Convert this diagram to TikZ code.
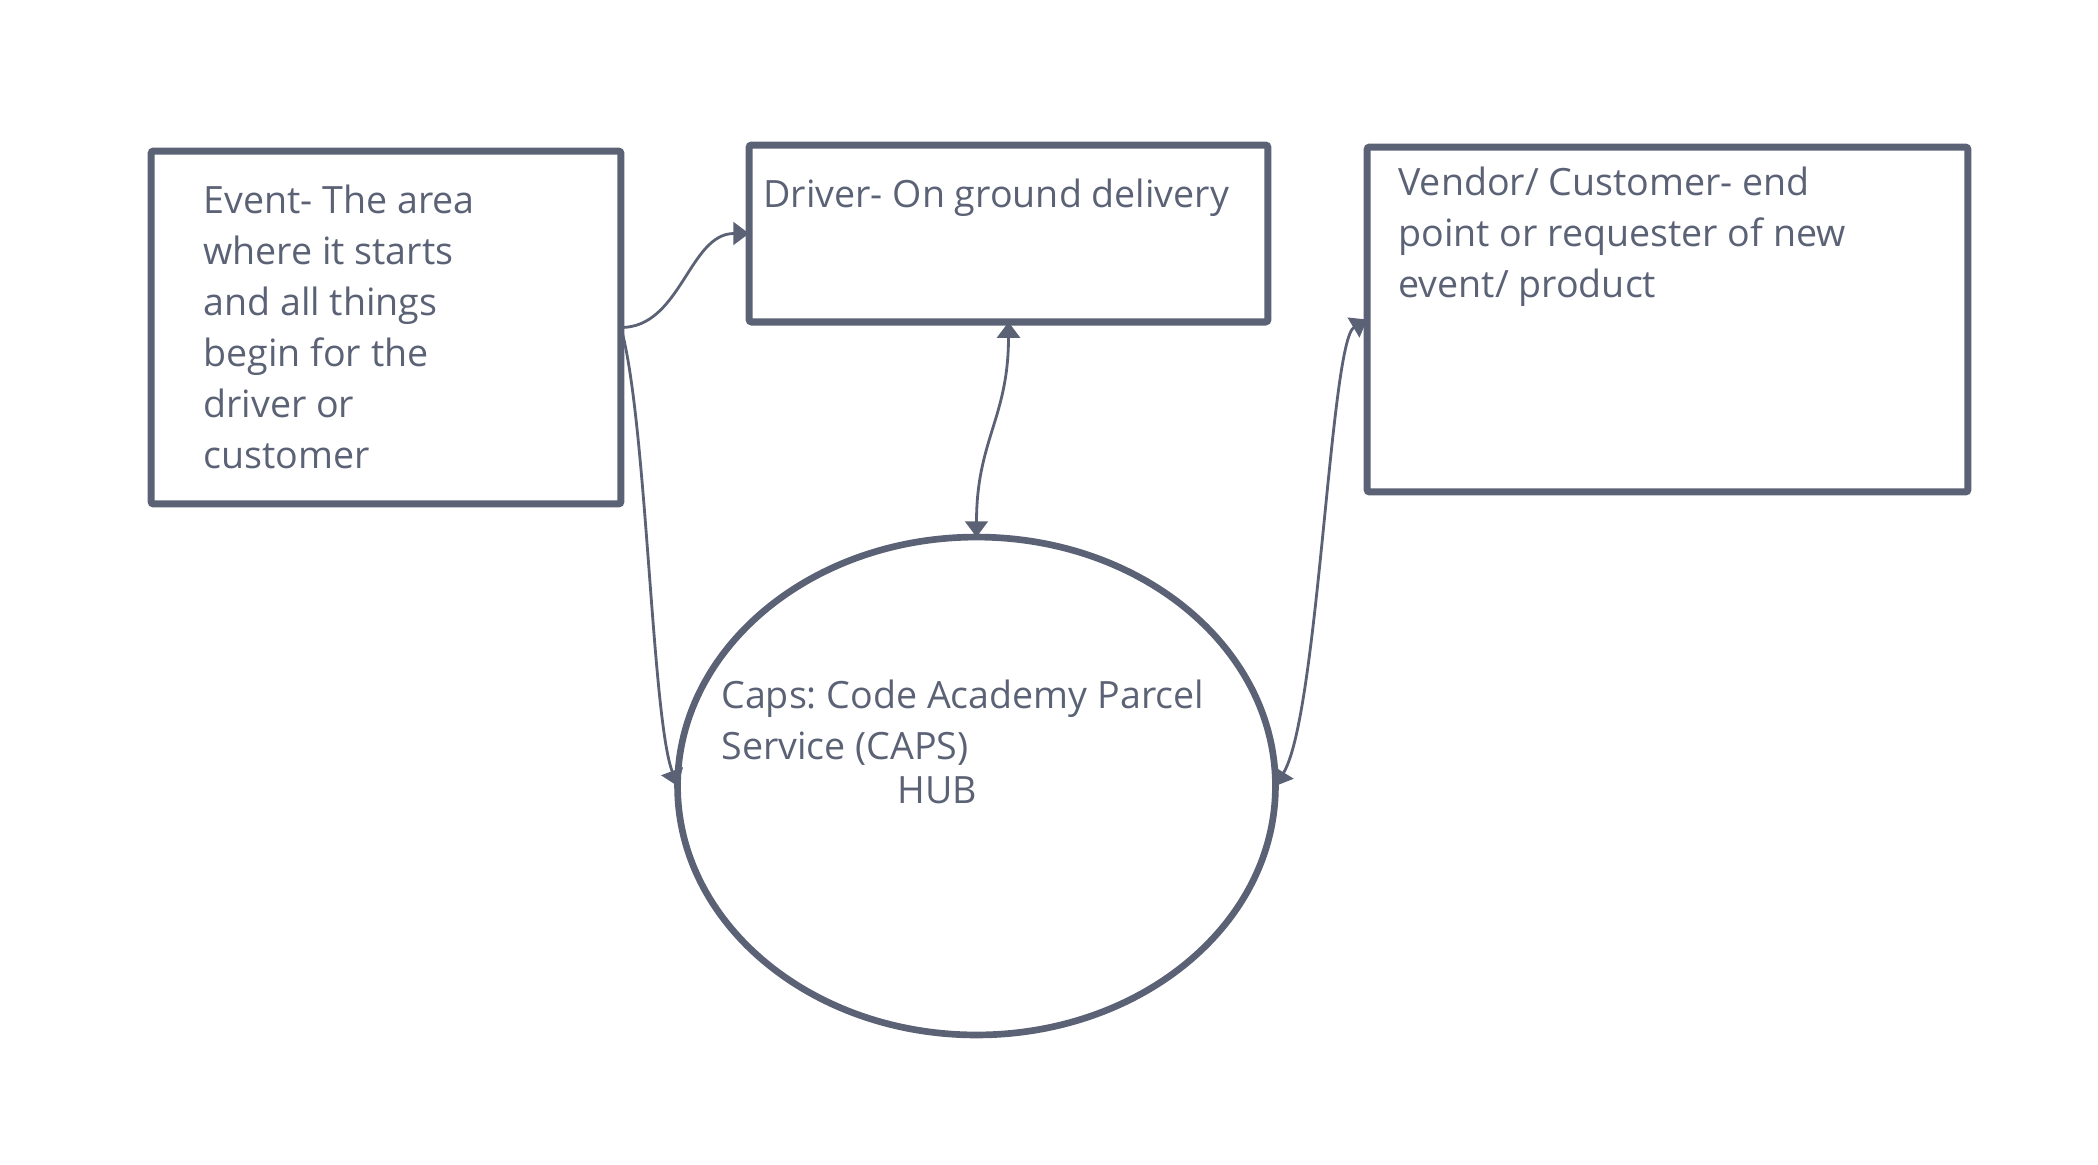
\documentclass[tikz,border=0pt]{standalone}
\usepackage{fontspec}
\setmainfont{Open Sans}
\usetikzlibrary{arrows.meta,shapes.geometric}
\definecolor{ink}{HTML}{5B6275}
\frenchspacing

\begin{document}
\begin{tikzpicture}[x=0.02cm,y=-0.02cm,
    box/.style={draw=ink,line width=4pt,rounded corners=1.5pt,inner sep=0pt,outer sep=0pt},
    txt/.style={text=ink,font=\fontsize{21.4}{29}\selectfont,inner sep=0pt,align=left,anchor=base west},
    tip/.style={-{Triangle[length=9pt,width=13pt]}},
    both/.style={{Triangle[length=9pt,width=13pt]}-{Triangle[length=9pt,width=13pt]}},
    link/.style={draw=ink,line width=1.6pt}]
    \useasboundingbox (0,0) rectangle (2098,1164);
    % boxes
    \node[box,minimum width=9.4cm,minimum height=7.06cm] (event) at (386,327.5) {};
    \node[box,minimum width=10.38cm,minimum height=3.54cm] (driver) at (1008.5,233.5) {};
    \node[box,minimum width=12.02cm,minimum height=6.9cm] (vendor) at (1667.5,319.5) {};
    \node[box,ellipse,line width=3.8pt,minimum width=11.96cm,minimum height=9.96cm] (hub) at (976.5,786) {};
    % texts (base = last line)
    \node[txt] (eventtxt) at (203,468) {Event- The area\\where it starts\\and all things\\begin for the\\driver or\\customer};
    \node[txt] (drivertxt) at (763,207) {Driver- On ground delivery};
    \node[txt] (vendortxt) at (1398,297) {Vendor/ Customer- end\\point or requester of new\\event/ product};
    \node[txt] (hubtxt) at (721,803) {Caps: Code Academy Parcel\\Service (CAPS)\\[-4pt]\hspace{3.52cm}HUB};
    % connectors
    \draw[link,tip] (event.east) .. controls +(60,0) and +(-60,0) .. (driver.west);
    \draw[link,tip] (event.east) .. controls +(26,94) and +(-26,-70) .. (hub.west);
    \draw[link,both] (driver.south) .. controls +(0,96) and +(0,-97) .. (hub.north);
    \draw[link,both] (vendor.west) .. controls +(-37,22) and +(43,-70) .. (hub.east);
\end{tikzpicture}
\end{document}
